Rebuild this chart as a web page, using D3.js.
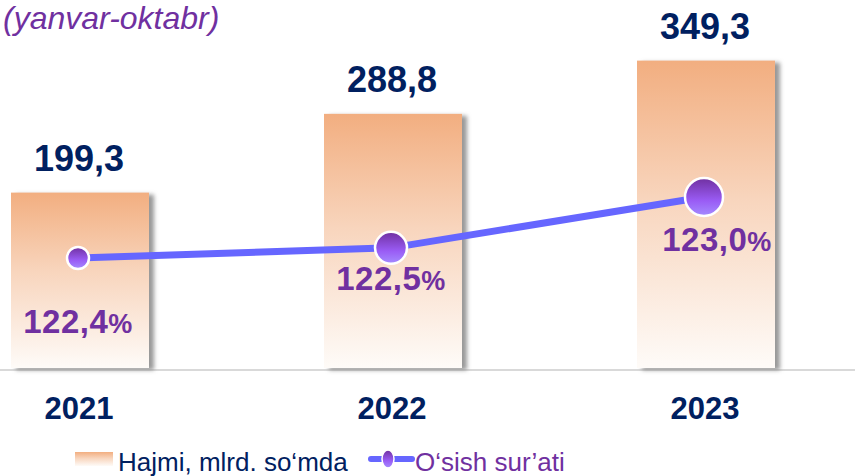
<!DOCTYPE html>
<html>
<head>
<meta charset="utf-8">
<script src="https://cdn.jsdelivr.net/npm/d3@7/dist/d3.min.js"></script>
<style>
  body { margin: 0; background: #fff; }
  svg { display: block; font-family: "Liberation Sans", Arial, sans-serif; }
</style>
</head>
<body>
<div id="chart"></div>
<script>
// data
var years = ["2021", "2022", "2023"];
var volume = [199.3, 288.8, 349.3];       // Hajmi, mlrd. so'mda
var growth = [122.4, 122.5, 123.0];       // O'sish sur'ati, %
var volumeLabels = ["199,3", "288,8", "349,3"];
var growthLabels = ["122,4", "122,5", "123,0"];

var width = 855, height = 476;
var navy = "#002060", purple = "#7030a0";

var svg = d3.select("#chart").append("svg")
    .attr("width", width).attr("height", height);

var defs = svg.append("defs");

var barGrad = defs.append("linearGradient").attr("id", "barGrad")
    .attr("x1", 0).attr("y1", 0).attr("x2", 0).attr("y2", 1);
barGrad.append("stop").attr("offset", "0%").attr("stop-color", "#f2ae80");
barGrad.append("stop").attr("offset", "45%").attr("stop-color", "#f8d5bd");
barGrad.append("stop").attr("offset", "100%").attr("stop-color", "#fefbf8");

var dotGrad = defs.append("linearGradient").attr("id", "dotGrad")
    .attr("x1", 0).attr("y1", 0).attr("x2", 0).attr("y2", 1);
dotGrad.append("stop").attr("offset", "0%").attr("stop-color", "#7030a0");
dotGrad.append("stop").attr("offset", "60%").attr("stop-color", "#9a5cf5");
dotGrad.append("stop").attr("offset", "100%").attr("stop-color", "#a58cff");

var shadow = defs.append("filter").attr("id", "shadow")
    .attr("x", "-10%").attr("y", "-10%").attr("width", "130%").attr("height", "120%");
shadow.append("feDropShadow").attr("dx", 5).attr("dy", 2)
    .attr("stdDeviation", 2).attr("flood-color", "#777").attr("flood-opacity", 0.75);

// scales
var x = d3.scalePoint().domain(years).range([80, 706]);
var barW = 138;
var y = d3.scaleLinear().domain([0, 350]).range([368, 60]);
var yLine = d3.scaleLinear().domain([122.4, 123.0]).range([258, 197]);

var dotR = [11, 16, 19];
var pctDx = [0, 0, 13];
var pctDy = [75, 42, 54];

// baseline
svg.append("line")
    .attr("x1", 0).attr("x2", width)
    .attr("y1", y(0) + 2).attr("y2", y(0) + 2)
    .attr("stroke", "#d9d9d9").attr("stroke-width", 2);

// bars
svg.selectAll("rect.bar").data(volume).enter().append("rect")
    .attr("class", "bar")
    .attr("x", function(d, i){ return x(years[i]) - barW / 2; })
    .attr("y", function(d){ return y(d); })
    .attr("width", barW)
    .attr("height", function(d){ return y(0) - y(d); })
    .attr("fill", "url(#barGrad)")
    .attr("filter", "url(#shadow)");

// value labels
svg.selectAll("text.val").data(volume).enter().append("text")
    .attr("class", "val")
    .attr("x", function(d, i){ return x(years[i]) - 1; })
    .attr("y", function(d){ return y(d) - 22; })
    .attr("text-anchor", "middle")
    .style("font-size", "36px").style("font-weight", "bold")
    .style("fill", navy)
    .text(function(d, i){ return volumeLabels[i]; });

// year labels
svg.selectAll("text.year").data(years).enter().append("text")
    .attr("class", "year")
    .attr("x", function(d){ return x(d) - 1; })
    .attr("y", 419)
    .attr("text-anchor", "middle")
    .style("font-size", "31px").style("font-weight", "bold")
    .style("fill", navy)
    .text(function(d){ return d; });

// growth line
var line = d3.line()
    .x(function(d, i){ return x(years[i]) - 2; })
    .y(function(d){ return yLine(d); });

svg.append("path").datum(growth)
    .attr("d", line)
    .attr("fill", "none")
    .attr("stroke", "#6666ff")
    .attr("stroke-width", 7);

svg.selectAll("circle.dot").data(growth).enter().append("circle")
    .attr("class", "dot")
    .attr("cx", function(d, i){ return x(years[i]) - 2; })
    .attr("cy", function(d){ return yLine(d); })
    .attr("r", function(d, i){ return dotR[i]; })
    .attr("fill", "url(#dotGrad)")
    .attr("stroke", "#fff").attr("stroke-width", 2.5);

var pct = svg.selectAll("text.pct").data(growth).enter().append("text")
    .attr("class", "pct")
    .attr("x", function(d, i){ return x(years[i]) - 2 + pctDx[i]; })
    .attr("y", function(d, i){ return yLine(d) + pctDy[i]; })
    .attr("text-anchor", "middle")
    .style("font-weight", "bold")
    .style("fill", purple)
    .style("letter-spacing", "0.5px");
pct.append("tspan").style("font-size", "33px")
    .text(function(d, i){ return growthLabels[i]; });
pct.append("tspan").style("font-size", "27px").text("%");

// subtitle
svg.append("text")
    .attr("x", 3).attr("y", 29)
    .style("font-size", "32px").style("font-style", "italic")
    .style("fill", purple)
    .text("(yanvar-oktabr)");

// legend
var legend = svg.append("g");
legend.append("rect")
    .attr("x", 75).attr("y", 452).attr("width", 38).attr("height", 14)
    .attr("fill", "url(#barGrad)");
legend.append("text")
    .attr("x", 118).attr("y", 471)
    .style("font-size", "26px").style("fill", navy)
    .text("Hajmi, mlrd. so\u2018mda");
legend.append("line")
    .attr("x1", 371).attr("x2", 412).attr("y1", 459).attr("y2", 459)
    .attr("stroke", "#6666ff").attr("stroke-width", 6)
    .attr("stroke-linecap", "round");
legend.append("ellipse")
    .attr("cx", 388).attr("cy", 459).attr("rx", 6).attr("ry", 9)
    .attr("fill", "url(#dotGrad)").attr("stroke", "#fff").attr("stroke-width", 1.5);
legend.append("text")
    .attr("x", 415).attr("y", 471)
    .style("font-size", "26px").style("fill", purple)
    .text("O\u2018sish sur\u2019ati");
</script>
</body>
</html>
